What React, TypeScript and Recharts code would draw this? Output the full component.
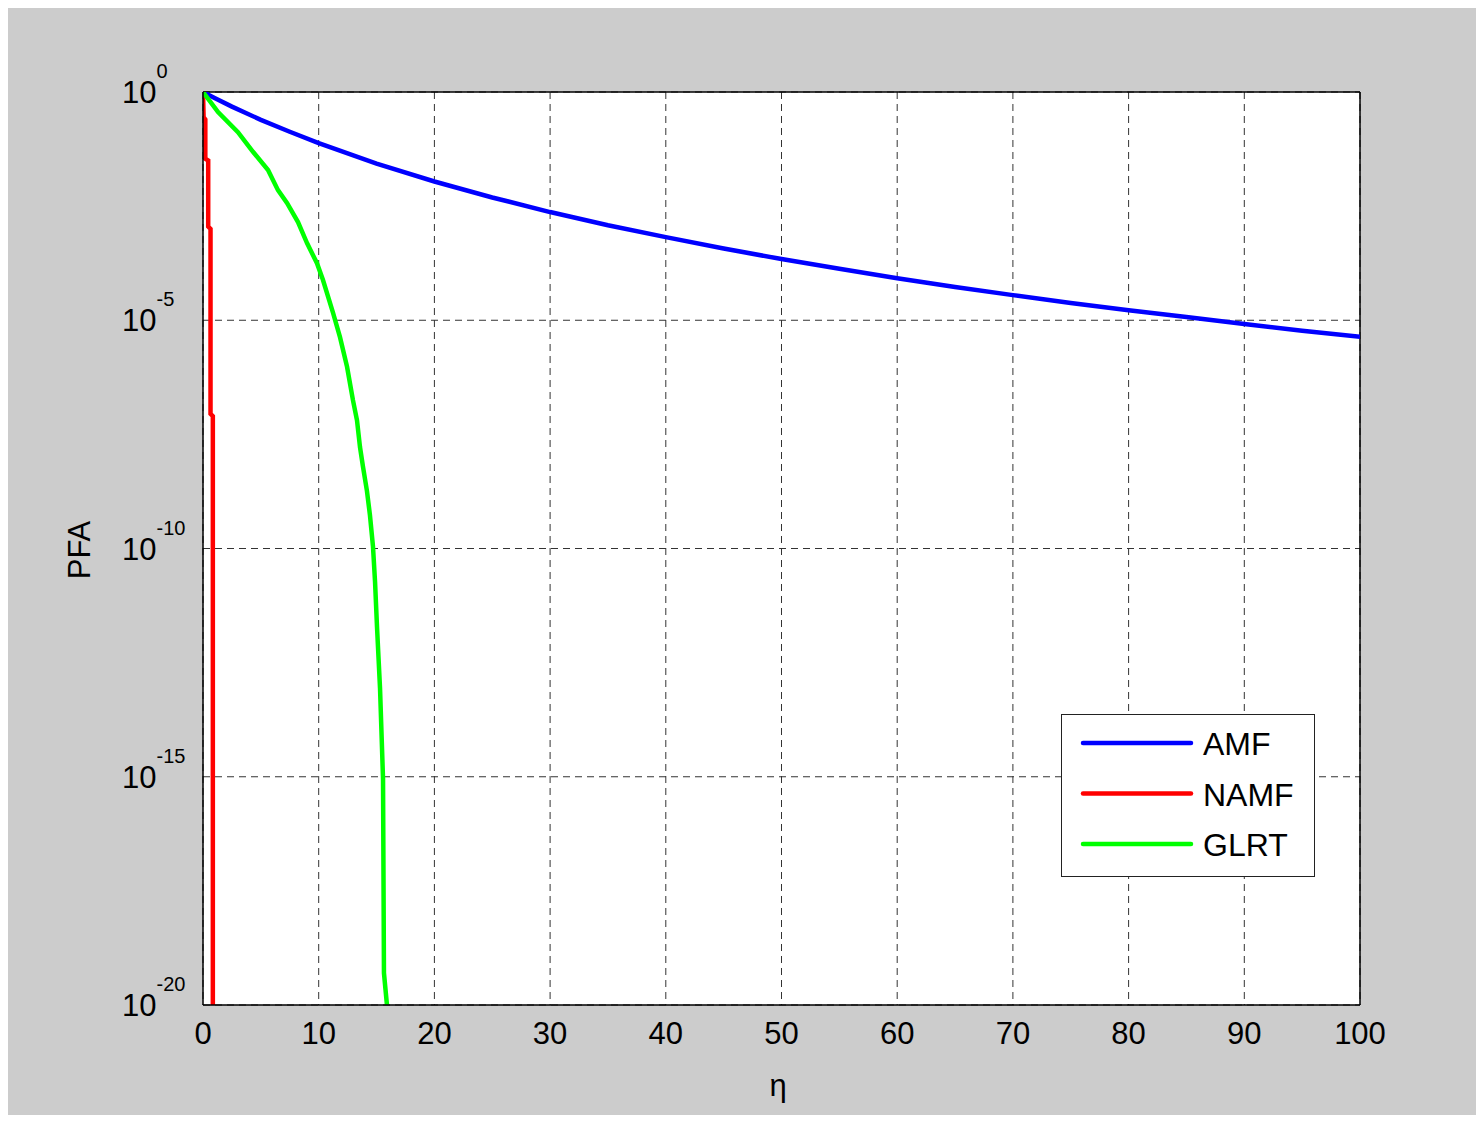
import React from 'react';
import { LineChart, Line, XAxis, YAxis, CartesianGrid, ReferenceLine, Label } from 'recharts';

// eta values and log10(PFA) exponents
const amfEta = [0, 1, 2.5, 5, 7.5, 10, 15, 20, 25, 30, 35, 40, 45, 50, 55, 60, 65, 70, 75, 80, 85, 90, 95, 100];
const amfExp = [0, -0.13, -0.32, -0.61, -0.87, -1.12, -1.57, -1.96, -2.31, -2.63, -2.92, -3.18, -3.43, -3.66, -3.87, -4.08, -4.27, -4.45, -4.62, -4.78, -4.93, -5.08, -5.23, -5.36];

const namfEta = [0, 0.05, 0.2, 0.2, 0.45, 0.45, 0.65, 0.65, 0.85, 0.85];
const namfExp = [0, -0.55, -0.6, -1.46, -1.5, -2.95, -3.0, -7.05, -7.1, -20];

const glrtEta = [0, 1.3, 3.02, 4.32, 5.62, 6.48, 7.26, 8.21, 8.99, 9.85, 10.37, 11.24, 11.84, 12.45, 12.96, 13.31, 13.57, 13.83, 14.17, 14.43, 14.69, 14.87, 15.04, 15.3, 15.56, 15.64, 15.9];
const glrtExp = [0, -0.44, -0.88, -1.31, -1.71, -2.15, -2.43, -2.85, -3.31, -3.75, -4.12, -4.84, -5.37, -6.02, -6.75, -7.19, -7.78, -8.21, -8.74, -9.27, -9.95, -10.73, -11.72, -13.06, -15.05, -19.3, -20];

const xTicks = [0, 10, 20, 30, 40, 50, 60, 70, 80, 90, 100];
const yTickExps = [-20, -15, -10, -5, 0];

const seriesNames = ['AMF', 'NAMF', 'GLRT'];
const seriesColors = ['#0000ff', '#ff0000', '#00ff00'];

const toData = (eta: number[], ex: number[]) => eta.map((x, i) => ({ x, y: Math.pow(10, ex[i]) }));
const amfData = toData(amfEta, amfExp);
const namfData = toData(namfEta, namfExp);
const glrtData = toData(glrtEta, glrtExp);

const FONT = '"Liberation Sans", Arial, Helvetica, sans-serif';

const YTick = (props: any) => {
  const { y, payload } = props;
  const e = Math.round(Math.log10(payload.value));
  return (
    <text x={114} y={y + 11} fontSize={31} fontFamily={FONT} fill="#000" textAnchor="start">
      10
      <tspan dy={-25} fontSize={20}>{String(e)}</tspan>
    </text>
  );
};

const XTick = (props: any) => {
  const { x, payload } = props;
  return (
    <text x={x} y={1036} fontSize={31} fontFamily={FONT} fill="#000" textAnchor="middle">
      {payload.value}
    </text>
  );
};

const LegendBox = () => (
  <div
    style={{
      position: 'absolute',
      left: 1053,
      top: 706,
      width: 254,
      height: 163,
      background: '#fff',
      border: '1.5px solid #222',
      boxSizing: 'border-box',
      fontFamily: FONT,
    }}
  >
    <svg width={251} height={160} style={{ position: 'absolute', left: 0, top: 0 }}>
      {seriesNames.map((n, i) => (
        <g key={n}>
          <line x1={21} x2={129} y1={28 + i * 50.5} y2={28 + i * 50.5} stroke={seriesColors[i]} strokeWidth={4.5} strokeLinecap="round" />
          <text x={141} y={28 + i * 50.5 + 12} fontSize={32} fontFamily={FONT} fill="#000">{n}</text>
        </g>
      ))}
    </svg>
  </div>
);

export default function App() {
  return (
    <div style={{ width: 1468, height: 1107, background: '#cccccc', position: 'relative' }}>
      <LineChart width={1468} height={1107} margin={{ top: 84, right: 116, bottom: 0, left: 0 }}>
        <CartesianGrid
          fill="#ffffff"
          stroke="#333"
          strokeDasharray="7 5"
          verticalValues={xTicks}
          horizontalValues={yTickExps.map((e) => Math.pow(10, e))}
        />
        <XAxis
          type="number"
          dataKey="x"
          domain={[0, 100]}
          ticks={xTicks}
          height={110}
          tick={<XTick />}
          tickLine={false}
          axisLine={{ stroke: '#000', strokeWidth: 1.5 }}
          allowDataOverflow
        >
          <Label
            content={() => (
              <text x={770} y={1088} fontSize={31} fontFamily={FONT} textAnchor="middle" fill="#000">η</text>
            )}
          />
        </XAxis>
        <YAxis
          type="number"
          dataKey="y"
          scale="log"
          domain={[1e-20, 1]}
          ticks={yTickExps.map((e) => Math.pow(10, e))}
          width={195}
          tick={<YTick />}
          tickLine={false}
          axisLine={{ stroke: '#000', strokeWidth: 1.5 }}
          allowDataOverflow
        >
          <Label
            content={() => (
              <text x={82} y={542} fontSize={31} fontFamily={FONT} textAnchor="middle" fill="#000" transform="rotate(-90 82 542)">PFA</text>
            )}
          />
        </YAxis>
        <ReferenceLine x={100} stroke="#000" strokeWidth={1.5} />
        <ReferenceLine y={1} stroke="#000" strokeWidth={1.5} />
        <Line data={amfData} dataKey="y" name="AMF" type="linear" stroke="#0000ff" strokeWidth={4.5} dot={false} isAnimationActive={false} />
        <Line data={namfData} dataKey="y" name="NAMF" type="linear" stroke="#ff0000" strokeWidth={4.5} dot={false} isAnimationActive={false} />
        <Line data={glrtData} dataKey="y" name="GLRT" type="linear" stroke="#00ff00" strokeWidth={4.5} dot={false} isAnimationActive={false} />
      </LineChart>
      <LegendBox />
    </div>
  );
}
